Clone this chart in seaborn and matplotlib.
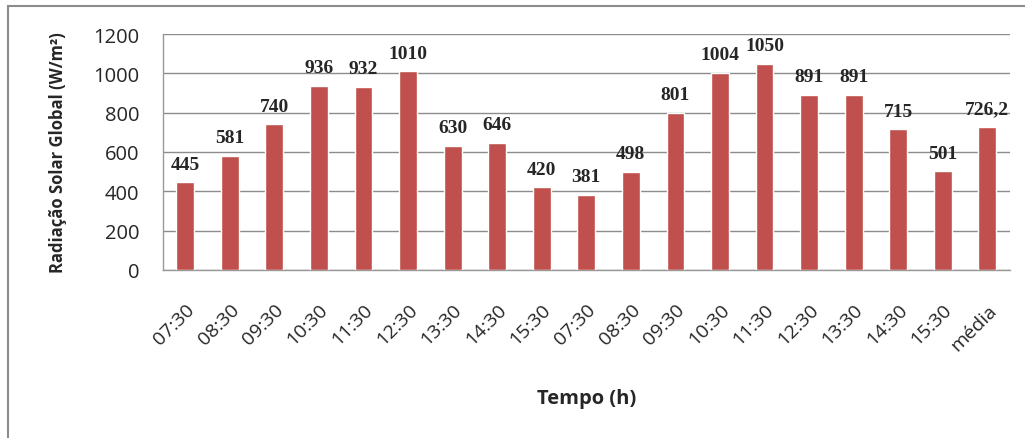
import matplotlib
matplotlib.use("Agg")
import matplotlib.pyplot as plt
import seaborn as sns
import pandas as pd
from matplotlib.patches import Rectangle
from matplotlib.transforms import ScaledTranslation

# Data
times = ["07:30", "08:30", "09:30", "10:30", "11:30", "12:30", "13:30",
         "14:30", "15:30", "07:30", "08:30", "09:30", "10:30", "11:30",
         "12:30", "13:30", "14:30", "15:30", "média"]
radiation = [445, 581, 740, 936, 932, 1010, 630, 646, 420, 381, 498,
             801, 1004, 1050, 891, 891, 715, 501, 726.2]
value_labels = ["445", "581", "740", "936", "932", "1010", "630", "646",
                "420", "381", "498", "801", "1004", "1050", "891", "891",
                "715", "501", "726,2"]

df = pd.DataFrame({"pos": range(len(times)), "rad": radiation})

sns.set_style("white")
plt.rcParams["font.family"] = ["Open Sans", "DejaVu Sans"]

fig = plt.figure(figsize=(10.25, 4.39), dpi=100)
ax = fig.add_axes([0.159, 0.383, 0.826, 0.537])

sns.barplot(data=df, x="pos", y="rad", color="#C0504D", saturation=1,
            width=0.4, ax=ax, zorder=3)

# value labels above the bars
for patch, txt in zip(ax.patches, value_labels):
    ax.annotate(txt, (patch.get_x() + patch.get_width() / 2, patch.get_height()),
                xytext=(0, 7), textcoords="offset points", ha="center",
                va="bottom", fontsize=14, family="Liberation Serif",
                fontweight="bold")

ax.set_ylim(0, 1200)
ax.set_yticks(range(0, 1201, 200))
ax.set_xlim(-0.5, len(times) - 0.5)
ax.set_xticks(range(len(times)))
ax.set_xticklabels(times, rotation=45, ha="right", rotation_mode="anchor",
                   fontsize=14)
shift = ScaledTranslation(7 / 72, 0, fig.dpi_scale_trans)
for lab in ax.get_xticklabels():
    lab.set_transform(lab.get_transform() + shift)
ax.set_xticks([i - 0.5 for i in range(len(times) + 1)], minor=True)
ax.tick_params(axis="x", which="major", length=0, pad=22)
ax.tick_params(axis="x", which="minor", length=6, color="#999999", width=1)
ax.tick_params(axis="y", length=6, color="#999999", labelsize=14.5, pad=11)

ax.yaxis.grid(True, color="#8c8c8c", linewidth=1, zorder=0)
ax.set_axisbelow(True)
for side in ["top", "right"]:
    ax.spines[side].set_visible(False)
for side in ["left", "bottom"]:
    ax.spines[side].set_color("#999999")
    ax.spines[side].set_linewidth(1)

ax.set_xlabel("Tempo (h)", fontsize=14.5, fontweight="bold", labelpad=25)
ax.set_ylabel("Radiação Solar Global (W/m²)", fontsize=12,
              fontweight="bold", labelpad=19)

# outer chart frame (only left and top edges fall inside the image)
fig.patches.append(Rectangle((8 / 1025, -0.2), 1.2, 1.184,
                             transform=fig.transFigure, fill=False,
                             edgecolor="#8c8c8c", linewidth=1.5))

fig.savefig("out.png", dpi=100)
